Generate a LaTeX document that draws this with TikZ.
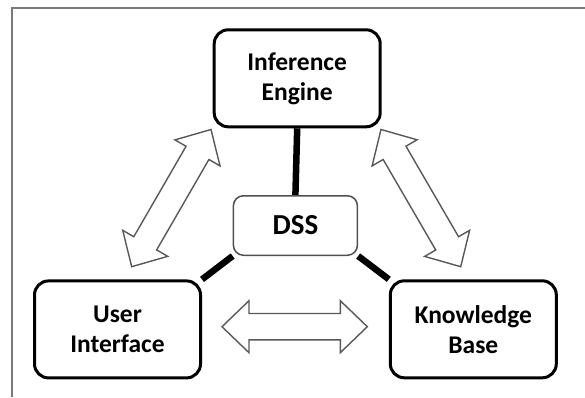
\documentclass[tikz,border=0pt]{standalone}
\usepackage{fontspec}
\setmainfont{Carlito}
\usetikzlibrary{calc,backgrounds}
\definecolor{framegray}{HTML}{7A7A7A}
\definecolor{dssgray}{HTML}{505050}
\definecolor{arrowgray}{HTML}{585858}
\newcommand\dblarrow[2]{%
  \draw[blockarrow] (#1)
    -- ($(#1)!27pt!(#2)!26pt!90:(#2)$)
    -- ($(#1)!27pt!(#2)!13.2pt!90:(#2)$)
    -- ($(#2)!27pt!(#1)!13.2pt!-90:(#1)$)
    -- ($(#2)!27pt!(#1)!26pt!-90:(#1)$)
    -- (#2)
    -- ($(#2)!27pt!(#1)!26pt!90:(#1)$)
    -- ($(#2)!27pt!(#1)!13.2pt!90:(#1)$)
    -- ($(#1)!27pt!(#2)!13.2pt!-90:(#2)$)
    -- ($(#1)!27pt!(#2)!26pt!-90:(#2)$)
    -- cycle;}
\begin{document}
\begin{tikzpicture}[x=1pt,y=-1pt,
  mainbox/.style={draw=black, line width=3pt, rounded corners=14pt, fill=white,
    minimum width=166pt, minimum height=97pt, align=center, inner sep=0pt,
    font=\fontsize{25.5}{30}\selectfont\bfseries},
  dssbox/.style={draw=dssgray, line width=1.5pt, rounded corners=10pt, fill=white,
    minimum width=124pt, minimum height=59.5pt, inner sep=0pt,
    font=\fontsize{29}{32}\selectfont\bfseries},
  link/.style={line width=6.5pt, draw=black},
  blockarrow/.style={draw=arrowgray, line width=1.4pt, fill=white, line join=miter},
  framestyle/.style={draw=framegray, line width=2pt}]
\useasboundingbox (0,0) rectangle (585,397);
\draw[framestyle] (11.8,397) -- (11.8,8) -- (585,8);

\node[mainbox] (ie) at (297.2,78.3) {Inference\\Engine};
\node[dssbox] (dss) at (295.4,225.5) {DSS};
\node[mainbox] (ui) at (117.5,329.4) {User\\Interface};
\node[mainbox] (kb) at (473.3,329.3) {Knowledge\\Base};

\begin{scope}[on background layer]
  \draw[link] (ie.south) -- (dss.north);
  \draw[link] (dss.south west) -- (ui.north east);
  \draw[link] (dss.south east) -- (kb.north west);
\end{scope}

\coordinate (la) at (131.7,266.7);
\coordinate (lb) at (211,129.5);
\coordinate (ra) at (381,129.5);
\coordinate (rb) at (460.7,266.7);
\coordinate (ha) at (222,326.7);
\coordinate (hb) at (367.3,326.7);
\dblarrow{la}{lb}
\dblarrow{ra}{rb}
\dblarrow{ha}{hb}
\end{tikzpicture}
\end{document}
